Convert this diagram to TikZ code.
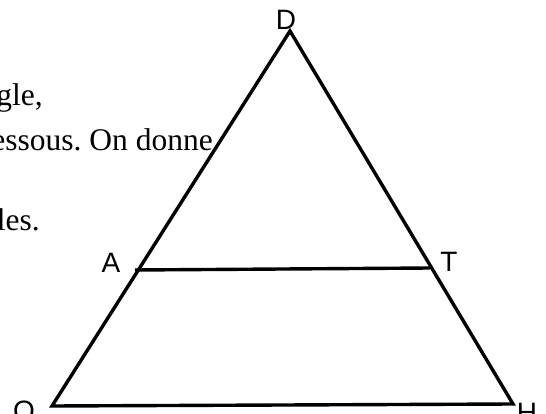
\documentclass[tikz,border=0pt]{standalone}
\usepackage{fontspec}
\setmainfont{Liberation Serif}
\newfontfamily\labelfont{Liberation Sans}
\usepackage{tikz}
\usetikzlibrary{positioning}
\frenchspacing
\tikzset{
	side/.style={draw, line width=3.4pt},
	vlabel/.style={font=\labelfont\fontsize{28}{28}\selectfont, inner sep=0pt},
	textline/.style={font=\fontsize{31.5}{36}\selectfont, inner sep=0pt, anchor=base east}
}

\begin{document}
\begin{tikzpicture}[x=1pt, y=-1pt]
		
		%% -- frame of the picture
		\useasboundingbox (0,0) rectangle (546,414);
		\clip (0,0) rectangle (546,414);
		
		%% -- text of the exercise, cut at the left edge
		\node[textline] (t1) at (43,106) {gle,};
		\node[textline] (t2) at (213,151) {essous. On donne};
		\node[textline] (t3) at (40,230) {les.};
		
		%% -- vertices
		\coordinate (D) at (290,31);
		\coordinate (O) at (52,406);
		\coordinate (H) at (513,404);
		\coordinate (A) at (135,270);
		\coordinate (T) at (430,268);
		
		%% -- vertex labels
		\node[vlabel] (lD) at (286,20) {D};
		\node[vlabel] (lA) at (111,263) {A};
		\node[vlabel] (lT) at (449,262) {T};
		\node[vlabel] (lO) at (24,411) {O};
		\node[vlabel] (lH) at (527,413) {H};
		
		%% -- triangle and parallel segment
		\draw[side] (D) -- (O) -- (H) -- cycle;
		\draw[side] (A) -- (T);
		
	\end{tikzpicture}
\end{document}
